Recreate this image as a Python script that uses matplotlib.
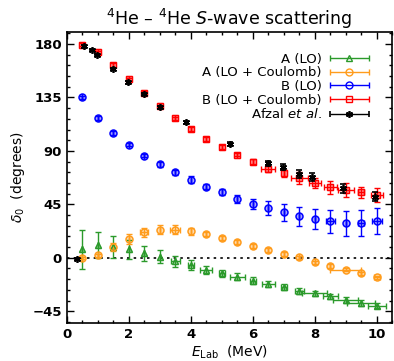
import matplotlib
matplotlib.use("Agg")
import matplotlib.pyplot as plt
import numpy as np
from matplotlib.ticker import MultipleLocator
from matplotlib.container import ErrorbarContainer
from matplotlib.legend_handler import HandlerErrorbar

# lattice energies (MeV)
E = [0.5, 1.0, 1.5, 2.0, 2.5, 3.0, 3.5, 4.0, 4.5, 5.0,
     5.5, 6.0, 6.5, 7.0, 7.5, 8.0, 8.5, 9.0, 9.5, 10.0]

# A (LO)
a_lo = [7.0, 11.0, 9.0, 7.2, 4.0, 0.8, -3.0, -5.9, -10.1, -12.9,
        -16.0, -19.4, -22.2, -25.0, -27.8, -30.0, -32.6, -35.6, -38.2, -40.4]
a_lo_err = [16.5, 11.0, 9.0, 8.0, 6.3, 5.6, 4.6, 4.0, 3.5, 3.0,
            3.0, 2.8, 2.6, 2.5, 2.5, 2.4, 2.4, 2.4, 2.3, 2.3]
a_lo_xerr = [0, 0, 0, 0, 0, 0, 0.15, 0.1, 0.2, 0.1,
             0.25, 0.1, 0.2, 0.1, 0.15, 0.4, 0.25, 0.4, 0.45, 0.3]

# A (LO + Coulomb)
a_c = [0.0, 2.0, 8.7, 15.7, 21.3, 23.6, 23.6, 22.2, 20.0, 16.8,
       13.3, 10.1, 6.7, 3.1, 0.3, -3.9, -6.7, -10.0, -13.2, -16.6]
a_c_err = [0.8, 1.0, 3.4, 4.2, 3.6, 3.8, 3.9, 3.0, 2.0, 1.5,
           1.5, 1.5, 1.5, 1.5, 1.5, 1.5, 1.5, 1.5, 1.5, 1.5]
a_c_xerr = [0, 0, 0, 0, 0.13, 0, 0.16, 0, 0, 0,
            0, 0, 0, 0, 0, 0, 0, 0.5, 0, 0.1]

# B (LO)
b_lo = [135.0, 117.7, 105.0, 95.2, 86.0, 78.6, 71.9, 65.7, 60.0, 55.0,
        49.4, 45.2, 41.5, 38.2, 35.1, 32.3, 30.6, 29.2, 29.2, 30.6]
b_lo_err = [1.5, 1.5, 1.5, 1.5, 1.5, 1.8, 2.2, 3.0, 2.0, 2.5,
            3.5, 4.4, 5.9, 7.4, 8.0, 8.4, 9.5, 10.5, 11.0, 11.0]
b_lo_xerr = [0, 0, 0, 0, 0, 0, 0, 0, 0, 0,
             0, 0, 0, 0, 0, 0, 0.15, 0, 0.1, 0.15]

# B (LO + Coulomb)
b_c = [179.4, 173.0, 162.3, 150.2, 138.7, 127.5, 117.4, 108.6, 100.2, 93.5,
       86.8, 80.9, 74.7, 71.0, 67.1, 62.9, 59.2, 57.0, 55.0, 52.8]
b_c_err = [1.5, 1.5, 1.5, 1.5, 1.5, 1.5, 1.5, 1.5, 1.5, 1.5,
           1.5, 2.0, 2.8, 3.0, 4.9, 4.2, 5.3, 5.6, 5.0, 6.0]
b_c_xerr = [0, 0, 0, 0, 0, 0, 0, 0, 0, 0,
            0, 0, 0.23, 0, 0.27, 0.19, 0.2, 0.25, 0.1, 0.2]

# Afzal et al. data
e_afz = [0.34, 0.57, 0.83, 0.97, 1.5, 1.98, 2.5, 3.0, 3.84, 5.27,
         6.5, 6.97, 7.5, 7.9, 8.9, 9.95]
d_afz = [-1.0, 178.0, 175.2, 170.8, 159.0, 147.7, 137.9, 126.6, 114.0, 96.0,
         79.5, 76.4, 70.5, 67.7, 58.4, 51.4]
d_afz_err = [1.0, 1.0, 1.0, 1.0, 1.0, 1.0, 1.0, 1.0, 1.0, 1.5,
             2.0, 2.8, 3.5, 3.4, 3.8, 3.8]

green = '#2b9a2b'
orange = '#ff9c1c'

fig = plt.figure(figsize=(3.94, 3.61), dpi=100)
ax = fig.add_axes([0.169, 0.105, 0.827, 0.806])

ax.axhline(0, color='black', ls=(0, (1.5, 2.5)), lw=1.2, zorder=1)

series = [
    (a_lo, a_lo_err, a_lo_xerr, green, '^', 'A (LO)'),
    (a_c, a_c_err, a_c_xerr, orange, 'o', 'A (LO + Coulomb)'),
    (b_lo, b_lo_err, b_lo_xerr, 'blue', 'o', 'B (LO)'),
    (b_c, b_c_err, b_c_xerr, 'red', 's', 'B (LO + Coulomb)'),
]
handles = []
for y, yerr, xerr, col, mk, lab in series:
    ax.errorbar(E, y, yerr=yerr, xerr=xerr, fmt=mk, color=col, ms=5,
                mfc='none', mec=col, mew=1.0, elinewidth=1.0, capsize=2.5,
                capthick=1.0, zorder=3)
    ax.plot(E, y, mk, color=col, ms=5, alpha=0.35, zorder=2)
    # legend proxy: horizontal bar only
    h = ax.errorbar([np.nan], [np.nan], xerr=[1], fmt=mk, color=col, ms=5,
                    mfc='none', mec=col, mew=1.0, elinewidth=1.0, capsize=2.5,
                    capthick=1.0, label=lab)
    handles.append(h)

ax.errorbar(e_afz, d_afz, yerr=d_afz_err, fmt='', marker=(6, 2, 0),
            ls='none', color='black', ms=5, mew=1.2, elinewidth=1.0,
            capsize=2.5, capthick=1.0, zorder=4)
h = ax.errorbar([np.nan], [np.nan], xerr=[1], fmt='', marker=(6, 2, 0),
                ls='none', color='black', ms=5, mew=1.2, elinewidth=1.0,
                capsize=2.5, capthick=1.0, label='Afzal $et\\ al.$')
handles.append(h)

ax.set_xlim(0, 10.5)
ax.set_ylim(-55, 190)
ax.xaxis.set_major_locator(MultipleLocator(2))
ax.xaxis.set_minor_locator(MultipleLocator(0.5))
ax.yaxis.set_major_locator(MultipleLocator(45))
ax.yaxis.set_minor_locator(MultipleLocator(9))
ax.tick_params(which='both', direction='in', top=True, right=True, width=1.0)
ax.tick_params(which='major', length=5, labelsize=9.5)
ax.tick_params(which='minor', length=2.5)
for lbl in ax.get_xticklabels() + ax.get_yticklabels():
    lbl.set_fontweight('bold')
for s in ax.spines.values():
    s.set_linewidth(1.2)

ax.set_xlabel('$E_{\\rm Lab}$  (MeV)', fontsize=10, labelpad=2)
ax.set_ylabel('$\\delta_0$  (degrees)', fontsize=10, labelpad=4)
ax.set_title('$^4$He – $^4$He $S$-wave scattering', fontsize=12.5, pad=5)

leg = ax.legend(handles=handles, loc='upper right', bbox_to_anchor=(0.965, 0.97),
                frameon=False, markerfirst=False, fontsize=9.5,
                labelspacing=0.05, handlelength=3.0, handletextpad=0.6,
                handler_map={ErrorbarContainer: HandlerErrorbar(xerr_size=1.5)})

fig.savefig('out.png', dpi=100)
